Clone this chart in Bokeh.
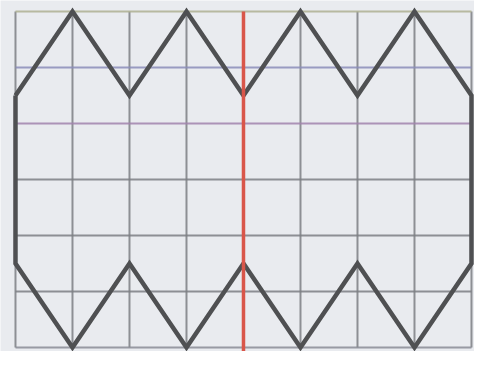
from bokeh.plotting import figure
from bokeh.embed import file_html
from bokeh.resources import INLINE
from bokeh.models import Range1d

# grid positions (grid units)
grid_x = [0, 1, 2, 3, 4, 5, 6, 7, 8]
grid_y = [0, 1, 2, 3, 4, 5, 6]
grid_y_colors = ["#8a8c95", "#7c7f84", "#7c7f84", "#7c7f84", "#a184ad", "#8b8db8", "#aeb092"]

# closed outline of the figure
shape_x = [0, 1, 2, 3, 4, 5, 6, 7, 8, 8, 7, 6, 5, 4, 3, 2, 1, 0, 0]
shape_y = [4.5, 6, 4.5, 6, 4.5, 6, 4.5, 6, 4.5, 1.5, 0, 1.5, 0, 1.5, 0, 1.5, 0, 1.5, 4.5]

# red axis of symmetry
axis_x = 4

p = figure(width=474, height=351, output_backend="svg", toolbar_location=None,
           x_range=Range1d(-0.263, 8.053), y_range=Range1d(-0.072, 6.196),
           min_border=0, background_fill_color="#e9ebef", border_fill_color="#e9ebef")
p.axis.visible = False
p.grid.visible = False
p.outline_line_color = None

y0, y1 = grid_y[0], grid_y[-1]
x0, x1 = grid_x[0], grid_x[-1]
p.segment(x0=grid_x, y0=[y0] * len(grid_x), x1=grid_x, y1=[y1] * len(grid_x),
          line_color="#7c7f84", line_width=2, line_alpha=0.85)
p.segment(x0=[x0] * len(grid_y), y0=grid_y, x1=[x1] * len(grid_y), y1=grid_y,
          line_color=grid_y_colors, line_width=2, line_alpha=0.85)

p.line(shape_x, shape_y, line_color="#4f5052", line_width=4.5, line_join="miter")
p.segment(x0=[axis_x], y0=[-0.072], x1=[axis_x], y1=[y1],
          line_color="#d9564a", line_width=3.5)

open("out.html", "w").write(file_html(p, INLINE))
